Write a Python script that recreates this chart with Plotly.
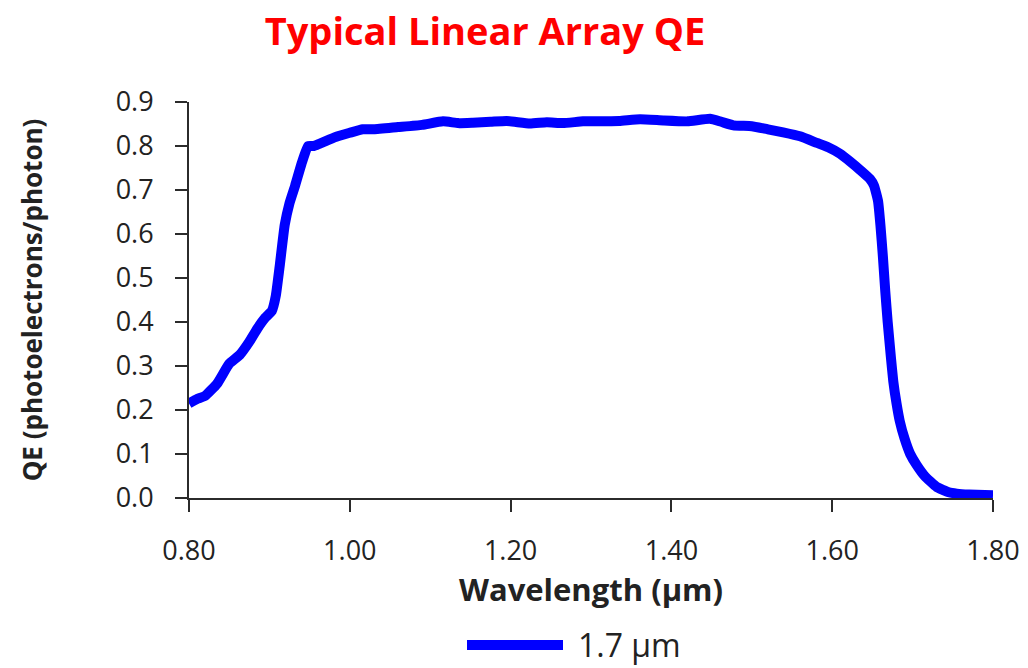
import plotly.graph_objects as go

# Data
wavelength_um = [0.80, 0.81, 0.82, 0.835, 0.85, 0.863, 0.875, 0.885, 0.895, 0.903,
                 0.908, 0.913, 0.919, 0.925, 0.932, 0.940, 0.948, 0.955, 0.962, 0.975,
                 0.985, 1.00, 1.016, 1.03, 1.06, 1.09, 1.116, 1.135, 1.153, 1.175,
                 1.195, 1.224, 1.245, 1.265, 1.29, 1.307, 1.335, 1.361, 1.39, 1.42,
                 1.448, 1.462, 1.477, 1.50, 1.52, 1.539, 1.56, 1.581, 1.595, 1.61,
                 1.622, 1.635, 1.647, 1.652, 1.657, 1.660, 1.663, 1.666, 1.669, 1.673,
                 1.676, 1.680, 1.684, 1.690, 1.697, 1.705, 1.715, 1.730, 1.745, 1.755,
                 1.77, 1.80]
qe_17um = [0.215, 0.225, 0.232, 0.26, 0.305, 0.325, 0.355, 0.385, 0.41, 0.425,
           0.46, 0.53, 0.62, 0.67, 0.71, 0.76, 0.80, 0.80, 0.805, 0.815,
           0.822, 0.83, 0.838, 0.838, 0.843, 0.848, 0.856, 0.852, 0.853, 0.855,
           0.857, 0.851, 0.854, 0.852, 0.856, 0.856, 0.857, 0.861, 0.858, 0.856,
           0.862, 0.855, 0.847, 0.845, 0.838, 0.831, 0.822, 0.807, 0.797, 0.782,
           0.765, 0.745, 0.725, 0.71, 0.675, 0.62, 0.55, 0.47, 0.40, 0.32,
           0.265, 0.215, 0.175, 0.135, 0.10, 0.075, 0.05, 0.025, 0.013, 0.01,
           0.008, 0.006]
series_name = "1.7 µm"

x_ticks = [0.80, 1.00, 1.20, 1.40, 1.60, 1.80]
x_ticklabels = ["0.80", "1.00", "1.20", "1.40", "1.60", "1.80"]
y_ticks = [0.0, 0.1, 0.2, 0.3, 0.4, 0.5, 0.6, 0.7, 0.8, 0.9]
y_ticklabels = ["0.0", "0.1", "0.2", "0.3", "0.4", "0.5", "0.6", "0.7", "0.8", "0.9"]

FONT = "Open Sans"
AX = "#2b2b2b"
TXT = "#222222"
BLUE = "#0000ff"

fig = go.Figure()
fig.add_trace(go.Scatter(
    x=wavelength_um, y=qe_17um, mode="lines", name=series_name, showlegend=False,
    line=dict(color=BLUE, width=10, shape="spline", smoothing=0.4),
))

common_axis = dict(showgrid=False, zeroline=False, showline=True, linecolor=AX, linewidth=2,
                   ticks="outside", ticklen=12, tickwidth=2, tickcolor=AX,
                   automargin=False, ticklabelstandoff=16,
                   tickfont=dict(family=FONT, size=27, color=TXT))

fig.update_layout(
    width=1028, height=668,
    paper_bgcolor="white", plot_bgcolor="white",
    margin=dict(l=189, r=35, t=102, b=170),
    title=dict(text="<b>Typical Linear Array QE</b>", x=485 / 1028, xref="container",
               xanchor="center", y=1 - 32 / 668, yref="container", yanchor="middle",
               font=dict(family=FONT, size=38, color="#ff0000")),
    xaxis=dict(range=[0.8, 1.8], tickvals=x_ticks, ticktext=x_ticklabels,
               title=dict(text="<b>Wavelength (µm)</b>", standoff=8,
                          font=dict(family=FONT, size=31, color=TXT)),
               **common_axis),
    yaxis=dict(range=[0, 0.9], tickvals=y_ticks, ticktext=y_ticklabels,
               title=dict(text="<b>QE (photoelectrons/photon)</b>", standoff=66,
                          font=dict(family=FONT, size=26, color=TXT)),
               **common_axis),
    xaxis2=dict(range=[0.8, 1.8], overlaying="x", anchor="y", side="bottom",
                tickvals=x_ticks, showticklabels=False, showgrid=False, zeroline=False,
                showline=False, ticks="inside", ticklen=12, tickwidth=2, tickcolor=AX),
    yaxis2=dict(range=[0, 0.9], overlaying="y", anchor="x", side="left",
                tickvals=y_ticks, showticklabels=False, showgrid=False, zeroline=False,
                showline=False, ticks="inside", ticklen=12, tickwidth=2, tickcolor=AX),
    showlegend=False,
)

# Legend sample (line + label), placed below the x-axis title as in the reference
fig.add_shape(type="line", xref="paper", yref="paper",
              x0=(467 - 189) / 804, x1=(563 - 189) / 804,
              y0=(498 - 645) / 396, y1=(498 - 645) / 396,
              line=dict(color=BLUE, width=10))
fig.add_annotation(text=series_name, xref="paper", yref="paper",
                   x=(576 - 189) / 804, y=(498 - 644) / 396, xanchor="left", yanchor="middle",
                   showarrow=False, font=dict(family=FONT, size=32, color=TXT))

fig.write_html("out.html", config={"displayModeBar": False},
               post_script="document.body.style.margin='0';document.body.style.overflow='hidden';")
